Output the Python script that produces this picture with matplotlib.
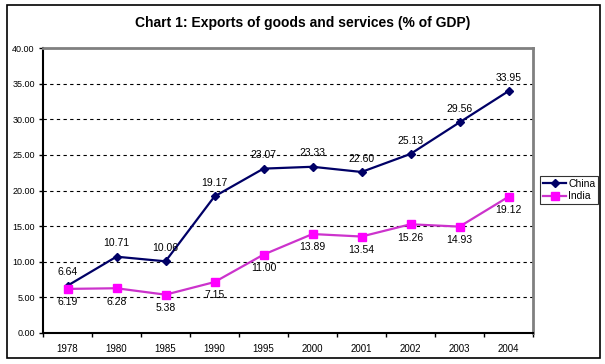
import matplotlib
matplotlib.use("Agg")
import matplotlib.pyplot as plt
from matplotlib.patches import Rectangle
import numpy as np

plt.rcParams['font.family'] = ['Liberation Sans', 'DejaVu Sans']

years = ["1978", "1980", "1985", "1990", "1995", "2000", "2001", "2002", "2003", "2004"]
china = [6.64, 10.71, 10.06, 19.17, 23.07, 23.33, 22.60, 25.13, 29.56, 33.95]
india = [6.19, 6.28, 5.38, 7.15, 11.00, 13.89, 13.54, 15.26, 14.93, 19.12]
yticks = [0, 5, 10, 15, 20, 25, 30, 35, 40]

fig = plt.figure(figsize=(6.05, 3.64), dpi=100)
fig.patches.append(Rectangle((7/605, 1-358/364), 593/605, 353/364, transform=fig.transFigure,
                             fill=False, edgecolor='black', linewidth=1.2))
fig.text(0.5, 1-23/364, "Chart 1: Exports of goods and services (% of GDP)", ha='center', va='center',
         fontsize=10, fontweight='bold')

ax = fig.add_axes([43/605, 1-333/364, 490/605, 285/364])
x = np.arange(len(years))

for v in yticks[1:-1]:
    ax.axhline(v, color='black', linestyle=(0, (3, 3)), linewidth=0.8, zorder=1)

ax.plot(x, china, color='#000066', marker='D', markersize=4.5, linewidth=1.6, label='China', zorder=3)
ax.plot(x, india, color='#CC33CC', marker='s', markersize=6, markerfacecolor='#FF00FF',
        markeredgecolor='#FF00FF', linewidth=1.6, label='India', zorder=3)

for xi, v in zip(x, china):
    ax.annotate(f"{v:.2f}", (xi, v), textcoords='offset points', xytext=(0, 6), ha='center', va='bottom', fontsize=7.5)
for xi, v in zip(x, india):
    ax.annotate(f"{v:.2f}", (xi, v), textcoords='offset points', xytext=(0, -6), ha='center', va='top', fontsize=7.5)

ax.set_xlim(-0.5, len(years) - 0.5)
ax.set_ylim(0, 40)
ax.set_yticks(yticks)
ax.set_yticklabels([f"{v:.2f}" for v in yticks], fontsize=6.5)
ax.set_xticks(x)
ax.set_xticklabels(years, fontsize=7)
ax.set_xticks(np.arange(-0.5, len(years), 1.0), minor=True)
ax.tick_params(axis='x', which='major', length=0, pad=8)
ax.tick_params(axis='x', which='minor', length=3, direction='out', width=1)
ax.tick_params(axis='y', length=3, direction='out', width=1, pad=3)

for s in ['left', 'bottom']:
    ax.spines[s].set_color('black')
    ax.spines[s].set_linewidth(1.5)
for s in ['top', 'right']:
    ax.spines[s].set_color('#808080')
    ax.spines[s].set_linewidth(2)

leg = fig.legend(loc='upper left', bbox_to_anchor=(540/605, 1-176/364), fontsize=7.5,
                 frameon=True, fancybox=False, edgecolor='black', handlelength=2.2,
                 borderpad=0.3, labelspacing=0.2, handletextpad=0.2, borderaxespad=0)
leg.get_frame().set_linewidth(0.8)

fig.savefig("out.png", dpi=100)
